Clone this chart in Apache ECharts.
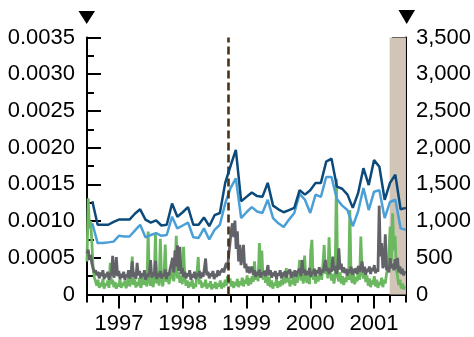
<!DOCTYPE html>
<html>
<head>
<meta charset="utf-8">
<script src="https://cdn.jsdelivr.net/npm/echarts@6/dist/echarts.min.js"></script>
<style>
html,body{margin:0;padding:0;background:#fff;}
#chart{width:474px;height:337px;}
</style>
</head>
<body>
<div id="chart"></div>
<script>
// ---- data ----
// axis range in decimal years
const xStart = 1996.5, xEnd = 2001.5;
const yearTicks = [1997, 1998, 1999, 2000, 2001];
const quarterTicks = [1996.5,1996.75,1997,1997.25,1997.5,1997.75,1998,1998.25,1998.5,1998.75,1999,1999.25,1999.5,1999.75,2000,2000.25,2000.5,2000.75,2001,2001.25,2001.5];
const eventDate = 1998.72;           // dashed vertical line
const shadeStart = 2001.245, shadeEnd = 2001.5;

// monthly series (Aug 1996 .. Jul 2001), left axis
const darkBlue = [0.00127,0.00095,0.00095,0.00095,0.00099,0.00102,0.00102,0.00102,0.00110,0.00116,
0.00102,0.00098,0.00101,0.00094,0.00095,0.00124,0.00106,0.00112,0.00119,0.00095,
0.00095,0.00105,0.00093,0.00108,0.00111,0.00152,0.00175,0.00197,0.00127,0.00133,
0.00139,0.00134,0.00133,0.00152,0.00121,0.00116,0.00112,0.00115,0.00118,0.00142,
0.00136,0.00142,0.00152,0.00152,0.00181,0.00185,0.00147,0.00144,0.00136,0.00118,
0.00138,0.00172,0.00149,0.00183,0.00174,0.00129,0.00152,0.00163,0.00116,0.00118];
const lightBlue = [0.00097,0.00070,0.00070,0.00071,0.00072,0.00080,0.00079,0.00079,0.00087,0.00095,
0.00078,0.00081,0.000835,0.00080,0.00081,0.00106,0.00090,0.00094,0.00098,0.00078,
0.00077,0.00090,0.00075,0.00088,0.00095,0.00124,0.00145,0.00158,0.00104,0.00112,
0.00119,0.00113,0.00111,0.00129,0.00104,0.00097,0.00092,0.00102,0.00111,0.00137,
0.00129,0.00111,0.00136,0.00133,0.00160,0.00160,0.00130,0.00121,0.00115,0.00093,
0.00113,0.00145,0.00115,0.00140,0.00142,0.00104,0.00126,0.00129,0.00090,0.00088];

// weekly series (from Jul 1996), right axis
const green = [450,1310,900,1000,700,350,230,180,120,200,
90,160,110,210,80,150,120,190,90,430,
140,200,100,170,80,150,110,210,90,160,
120,190,85,150,240,110,180,515,130,200,
95,170,120,230,90,160,280,130,200,110,
857,180,120,240,100,200,840,150,260,120,
760,200,110,250,680,170,300,140,220,380,
250,180,320,800,220,300,160,260,140,650,
230,120,190,90,170,110,200,80,150,100,
300,510,140,190,90,160,110,200,80,150,
100,180,70,140,90,170,75,150,110,190,
80,160,100,200,120,250,150,220,110,180,
90,170,120,210,100,180,130,230,110,200,
150,260,120,220,140,250,170,450,200,300,
180,700,280,600,200,330,160,280,120,240,
100,190,80,160,120,210,90,180,110,200,
130,250,150,360,170,230,110,200,140,260,
120,230,160,300,470,190,280,150,530,220,
160,290,140,585,745,200,300,150,260,180,
240,330,200,410,675,280,350,220,780,300,
190,280,150,260,1575,240,180,300,150,250,
130,230,170,330,200,1150,220,160,280,140,
240,180,350,200,790,300,220,330,170,260,
120,220,100,190,140,250,110,200,90,170,
130,230,100,200,150,280,350,600,925,450,
1107,600,800,350,250,130,200,80,150,70,120];
const gray = [560,610,470,540,420,360,300,330,260,310,
220,300,250,330,210,280,240,310,200,290,
260,525,230,300,510,250,320,210,280,230,
310,200,270,240,330,220,290,450,240,300,
210,430,260,320,220,290,250,330,200,280,
240,310,470,230,300,250,460,210,290,240,
320,220,280,250,340,210,300,260,350,420,
500,300,600,380,670,320,650,280,360,240,
310,220,290,250,330,200,280,230,310,210,
290,250,320,220,300,240,350,490,260,310,
220,290,250,320,210,280,240,330,260,300,
280,350,300,380,430,360,550,700,880,970,
780,1006,620,860,450,675,400,520,675,360,
420,300,380,290,350,380,270,330,240,310,
260,340,230,300,270,320,250,310,400,260,
330,230,300,250,320,210,290,260,330,220,
300,250,320,230,290,270,340,220,310,250,
330,240,300,280,350,250,470,290,340,260,
320,270,360,240,310,280,350,250,330,290,
370,260,340,300,380,470,320,360,280,350,
310,517,330,390,280,360,630,340,420,300,
370,290,350,260,340,300,380,270,350,290,
360,280,390,310,360,450,300,380,270,350,
310,380,280,360,320,400,290,350,310,1210,
520,700,360,400,820,330,380,300,495,360,
420,330,480,350,500,300,380,280,350,260,320];

// ---- chart ----
const monthX = i => xStart + (i + 1) / 12;
const weekX = i => xStart + i * 7 / 365.25;
const FONT = 'Liberation Sans, Arial, Helvetica, sans-serif';
const chart = echarts.init(document.getElementById('chart'), null, {renderer: 'canvas'});

const axisLineStyle = {color: '#000', width: 2};
const lbl = {fontSize: 22, color: '#000', fontFamily: FONT};

chart.setOption({
  animation: false,
  backgroundColor: '#fff',
  grid: {left: 87, right: 67.5, top: 37.5, bottom: 42.5, containLabel: false},
  xAxis: [
    {
      type: 'value', min: xStart, max: xEnd, position: 'bottom',
      axisLine: {show: true, lineStyle: axisLineStyle},
      axisTick: {show: true, length: 14, lineStyle: {color: '#000', width: 2}, customValues: yearTicks},
      axisLabel: Object.assign({show: true, margin: 18, customValues: yearTicks, formatter: v => String(Math.round(v))}, lbl),
      splitLine: {show: false}
    },
    {
      type: 'value', min: xStart, max: xEnd, position: 'bottom', offset: 0,
      axisLine: {show: false},
      axisTick: {show: true, length: 8, lineStyle: {color: '#000', width: 2}, customValues: quarterTicks},
      axisLabel: {show: false},
      splitLine: {show: false}
    }
  ],
  yAxis: [
    {
      type: 'value', min: 0, max: 0.0035, interval: 0.0005, position: 'left',
      axisLine: {show: true, lineStyle: axisLineStyle},
      axisTick: {show: true, inside: true, length: 14, lineStyle: {color: '#000', width: 2}},
      minorTick: {show: true, splitNumber: 2, length: 7, lineStyle: {color: '#000', width: 2}},
      axisLabel: Object.assign({margin: 12, formatter: v => v === 0 ? '0' : v.toFixed(4)}, lbl),
      splitLine: {show: false}, minorSplitLine: {show: false}
    },
    {
      type: 'value', min: 0, max: 3500, interval: 500, position: 'right',
      axisLine: {show: true, lineStyle: axisLineStyle},
      axisTick: {show: true, inside: true, length: 14, lineStyle: {color: '#000', width: 2}},
      minorTick: {show: true, splitNumber: 2, length: 7, lineStyle: {color: '#000', width: 2}},
      axisLabel: Object.assign({margin: 10, formatter: v => v >= 1000 ? Math.floor(v / 1000) + ',' + String(v % 1000).padStart(3, '0') : String(v)}, lbl),
      splitLine: {show: false}, minorSplitLine: {show: false}
    }
  ],
  series: [
    {
      name: 'shade', type: 'line', yAxisIndex: 1, data: [], z: 1,
      markArea: {silent: true, itemStyle: {color: '#d0c5b7'}, data: [[{xAxis: shadeStart}, {xAxis: shadeEnd}]]}
    },
    {
      name: 'green', type: 'line', yAxisIndex: 1, z: 2, showSymbol: false, symbol: 'none',
      lineStyle: {color: '#6cb860', width: 2.8},
      data: green.map((v, i) => [weekX(i), v])
    },
    {
      name: 'gray', type: 'line', yAxisIndex: 1, z: 3, showSymbol: false, symbol: 'none',
      lineStyle: {color: '#626368', width: 2.8},
      data: gray.map((v, i) => [weekX(i), v])
    },
    {
      name: 'lightBlue', type: 'line', yAxisIndex: 0, z: 4, showSymbol: false, symbol: 'none',
      lineStyle: {color: '#4a9fd6', width: 2.5},
      data: lightBlue.map((v, i) => [monthX(i), v])
    },
    {
      name: 'darkBlue', type: 'line', yAxisIndex: 0, z: 5, showSymbol: false, symbol: 'none',
      lineStyle: {color: '#0b4a7b', width: 2.5},
      data: darkBlue.map((v, i) => [monthX(i), v]),
      markLine: {silent: true, symbol: ['none', 'none'], label: {show: false},
        lineStyle: {color: '#4b331a', width: 2.6, type: [8, 4]},
        data: [{xAxis: eventDate}]}
    }
  ],
  graphic: [
    {type: 'polygon', shape: {points: [[78.5, 11], [95, 11], [86.7, 24]]}, style: {fill: '#000'}},
    {type: 'polygon', shape: {points: [[398.5, 10], [415, 10], [406.7, 24]]}, style: {fill: '#000'}}
  ]
});
</script>
</body>
</html>
